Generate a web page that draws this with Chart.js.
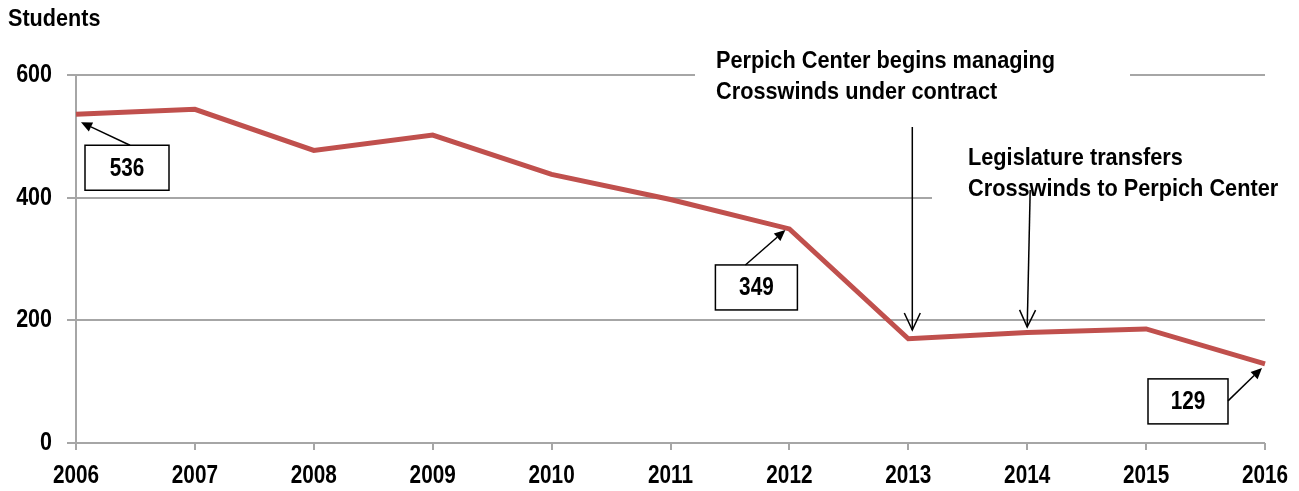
<!DOCTYPE html>
<html>
<head>
<meta charset="utf-8">
<script src="https://cdn.jsdelivr.net/npm/chart.js@4/dist/chart.umd.min.js"></script>
<style>
  html, body { margin: 0; padding: 0; background: #fff; }
  #wrap { width: 1299px; height: 491px; position: relative; }
</style>
</head>
<body>
<div id="wrap"><canvas id="c" width="1299" height="491"></canvas></div>
<script>
const years = ['2006','2007','2008','2009','2010','2011','2012','2013','2014','2015','2016'];
const students = [536, 544, 477, 502, 438, 397, 349, 170, 180, 186, 129];
const yTicks = [0, 200, 400, 600];
const axisTitle = 'Students';
const note1 = ['Perpich Center begins managing', 'Crosswinds under contract'];
const note2 = ['Legislature transfers', 'Crosswinds to Perpich Center'];
const calloutIdx = [0, 6, 10];

const FONT = '"Liberation Sans", Arial, sans-serif';
const SQUEEZE = 0.83;
const GRID = '#a6a6a6';

// draw bold narrow-looking text (horizontally condensed Liberation Sans Bold)
function narrowText(ctx, text, x, y, size, align, squeeze) {
  const sq = squeeze || SQUEEZE;
  ctx.save();
  ctx.font = 'bold ' + size + 'px ' + FONT;
  ctx.fillStyle = '#000';
  ctx.textBaseline = 'middle';
  ctx.textAlign = 'left';
  const w = ctx.measureText(text).width * sq;
  let left = x;
  if (align === 'center') left = x - w / 2;
  else if (align === 'right') left = x - w;
  ctx.translate(left, y);
  ctx.scale(sq, 1);
  ctx.fillText(text, 0, 0);
  ctx.restore();
}

function arrowFilled(ctx, x1, y1, x2, y2) {
  ctx.save();
  ctx.strokeStyle = '#000'; ctx.fillStyle = '#000'; ctx.lineWidth = 1.5;
  const a = Math.atan2(y2 - y1, x2 - x1);
  const hl = 11, hw = 5;
  const bx = x2 - hl * Math.cos(a), by = y2 - hl * Math.sin(a);
  ctx.beginPath(); ctx.moveTo(x1, y1); ctx.lineTo(bx, by); ctx.stroke();
  ctx.beginPath();
  ctx.moveTo(x2, y2);
  ctx.lineTo(bx + hw * Math.sin(a), by - hw * Math.cos(a));
  ctx.lineTo(bx - hw * Math.sin(a), by + hw * Math.cos(a));
  ctx.closePath(); ctx.fill();
  ctx.restore();
}
function arrowOpen(ctx, x1, y1, x2, y2) {
  ctx.save();
  ctx.strokeStyle = '#000'; ctx.lineWidth = 1.5;
  const a = Math.atan2(y2 - y1, x2 - x1);
  const hl = 17, hw = 8;
  ctx.beginPath(); ctx.moveTo(x1, y1); ctx.lineTo(x2, y2); ctx.stroke();
  const bx = x2 - hl * Math.cos(a), by = y2 - hl * Math.sin(a);
  ctx.beginPath();
  ctx.moveTo(bx + hw * Math.sin(a), by - hw * Math.cos(a));
  ctx.lineTo(x2, y2);
  ctx.lineTo(bx - hw * Math.sin(a), by + hw * Math.cos(a));
  ctx.stroke();
  ctx.restore();
}

const annot = {
  id: 'annot',
  beforeDatasetsDraw(chart) {
    const ctx = chart.ctx;
    ctx.save();
    ctx.fillStyle = '#fff';
    ctx.fillRect(695, 40, 435, 70);
    ctx.fillRect(932, 140, 367, 65);
    ctx.restore();
    narrowText(ctx, note1[0], 716, 61, 24, 'left', 0.905);
    narrowText(ctx, note1[1], 716, 92, 24, 'left', 0.905);
    narrowText(ctx, note2[0], 968, 158, 24, 'left', 0.905);
    narrowText(ctx, note2[1], 968, 189, 24, 'left', 0.905);
    narrowText(ctx, axisTitle, 8, 19, 24, 'left', 0.9);
    // tick labels, placed via the library's scales
    const xs = chart.scales.x, ys = chart.scales.y;
    xs.ticks.forEach((t, i) => {
      narrowText(ctx, years[i], xs.getPixelForTick(i), xs.top + 33, 25, 'center');
    });
    yTicks.forEach(v => {
      narrowText(ctx, String(v), 52, ys.getPixelForValue(v), 25, 'right', 0.86);
    });
  },
  afterDatasetsDraw(chart) {
    const ctx = chart.ctx;
    const xs = chart.scales.x, ys = chart.scales.y;
    const x13 = xs.getPixelForValue(7), x14 = xs.getPixelForValue(8);
    arrowOpen(ctx, x13 + 4, 127, x13 + 4, 330);
    arrowOpen(ctx, x14 + 3, 190, x14, 327);
    const boxes = [
      {dx: 9, dy: 31, w: 84, h: 45, ax: 45, ay: 0, tx: 5, ty: 8},
      {dx: -74, dy: 36, w: 82, h: 45, ax: 30, ay: 0, tx: -4, ty: 1},
      {dx: -117, dy: 15, w: 80, h: 45, ax: 80, ay: 22, tx: -3, ty: 4}
    ];
    calloutIdx.forEach((idx, k) => {
      const px = xs.getPixelForValue(idx), py = ys.getPixelForValue(students[idx]);
      const b = boxes[k];
      const bx = px + b.dx, by = py + b.dy;
      ctx.save();
      ctx.fillStyle = '#fff';
      ctx.fillRect(bx, by, b.w, b.h);
      ctx.strokeStyle = '#000'; ctx.lineWidth = 1.5;
      ctx.strokeRect(bx, by, b.w, b.h);
      ctx.restore();
      narrowText(ctx, String(students[idx]), bx + b.w / 2, by + b.h / 2 + 1, 25, 'center');
      arrowFilled(ctx, bx + b.ax, by + b.ay, px + b.tx, py + b.ty);
    });
  }
};

new Chart(document.getElementById('c'), {
  type: 'line',
  data: {
    labels: years,
    datasets: [{
      data: students,
      borderColor: '#C0504D',
      borderWidth: 5,
      pointRadius: 0,
      tension: 0,
      fill: false
    }]
  },
  options: {
    responsive: false,
    animation: false,
    devicePixelRatio: 1,
    layout: { padding: { left: 0, right: 34, top: 75, bottom: 0 } },
    plugins: { legend: { display: false }, tooltip: { enabled: false } },
    scales: {
      x: {
        offset: false,
        grid: { drawOnChartArea: false, drawTicks: true, tickLength: 7, color: GRID, lineWidth: 2 },
        border: { display: false },
        ticks: { display: false, autoSkip: false, maxRotation: 0 },
        afterFit(s) { s.height = 48; }
      },
      y: {
        min: 0, max: 600,
        afterBuildTicks(s) { s.ticks = yTicks.map(v => ({ value: v })); },
        grid: { color: GRID, lineWidth: 2, tickLength: 9, drawTicks: true },
        border: { display: true, color: GRID, width: 2 },
        ticks: { display: false },
        afterFit(s) { s.width = 76; }
      }
    }
  },
  plugins: [annot]
});
</script>
</body>
</html>
